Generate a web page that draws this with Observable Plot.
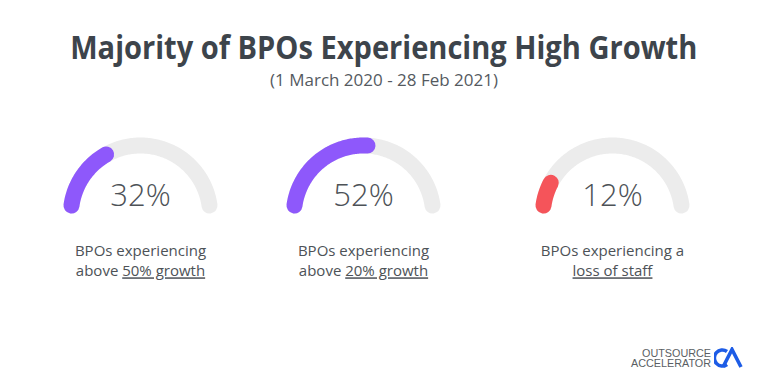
<!DOCTYPE html>
<html>
<head>
<meta charset="utf-8">
<script src="https://cdn.jsdelivr.net/npm/d3@7"></script>
<script src="https://cdn.jsdelivr.net/npm/@observablehq/plot@0.6"></script>
<style>
  html, body { margin: 0; padding: 0; background: #ffffff; }
  #wrap { position: relative; width: 768px; height: 384px; overflow: hidden; }
  #title { position: absolute; left: 0; top: 27px; width: 768px; height: 40px; line-height: 40px;
    text-align: center; font-family: "Open Sans", sans-serif; font-weight: 700; font-size: 32px; color: #3d444b;
    transform: scaleX(0.908); transform-origin: 381px 0; }
  #subtitle { position: absolute; left: 0; top: 68px; width: 768px; height: 24px; line-height: 24px;
    text-align: center; font-family: "Open Sans", sans-serif; font-size: 17px; color: #555a5f; }
  .gauge { position: absolute; top: 92px; }
  #logo { position: absolute; right: 24px; top: 347px; display: flex; align-items: center; gap: 3px; }
  #logo .txt { font-family: "Liberation Sans", Arial, sans-serif; font-size: 10.8px; line-height: 10.5px; color: #5a5e63; text-align: right; }
</style>
</head>
<body>
<div id="wrap">
  <div id="title">Majority of BPOs Experiencing High Growth</div>
  <div id="subtitle">(1 March 2020 - 28 Feb 2021)</div>
  <div id="logo">
    <div class="txt">OUTSOURCE<br>ACCELERATOR</div>
    <svg width="30" height="22" viewBox="0 0 30 22">
      <path d="M13 4.5 A8 8 0 1 0 13 17.5" fill="none" stroke="#1d5ce6" stroke-width="3.6"/>
      <path d="M9 20 L18 2.5 L27 20" fill="none" stroke="#1d5ce6" stroke-width="3.6" stroke-linejoin="miter"/>
    </svg>
  </div>
</div>
<script>
// ---- data ----
const gauges = ["above 50% growth", "above 20% growth", "loss of staff"];
const values = [32, 52, 12];
const colors = ["#8e58fb", "#8e58fb", "#f5545a"];
const line1 = ["BPOs experiencing", "BPOs experiencing", "BPOs experiencing a"];
const line2Prefix = ["above ", "above ", ""];
const line2Under = ["50% growth", "20% growth", "loss of staff"];

// ---- layout (small multiples, one Plot per gauge) ----
const gaugeCenters = [139.5, 362.5, 612];   // page x of each dial centre
const startDeg = 8, spanDeg = 164;          // dial sweep
const W = 236, H = 292;
const R = 69.7;                             // pixels per unit radius
const cy = 122.7;                           // dial centre (svg px)

const table = gauges.map((g, i) => ({
  gauge: g, value: values[i], color: colors[i],
  l1: line1[i], l2: line2Prefix[i] + line2Under[i], pct: values[i] + "%"
}));

function arcPoints(d, frac) {
  const pts = [];
  const end = spanDeg * frac;
  const n = Math.max(2, Math.ceil(end));
  for (let k = 0; k <= n; k++) {
    const a = (startDeg + end * k / n) * Math.PI / 180;
    pts.push({x: -Math.cos(a), y: Math.sin(a), color: d.color});
  }
  return pts;
}

const wrap = document.getElementById("wrap");
table.forEach((d, i) => {
  const plot = Plot.plot({
    width: W, height: H,
    marginLeft: 0, marginRight: 0, marginTop: 0, marginBottom: 0,
    x: {domain: [-W / 2 / R, W / 2 / R], axis: null},
    y: {domain: [-(H - cy) / R, cy / R], axis: null},
    style: {background: "transparent", overflow: "visible"},
    marks: [
      Plot.line(arcPoints(d, 1), {x: "x", y: "y", stroke: "#ececec", strokeWidth: 16, strokeLinecap: "round"}),
      Plot.line(arcPoints(d, d.value / 100), {x: "x", y: "y", stroke: "color", strokeWidth: 16, strokeLinecap: "round"}),
      Plot.text([d], {x: () => 0, y: () => 0, text: "pct", dy: -18.7, fontSize: 31, fontWeight: 300, fill: "#4d5257", fontFamily: "Open Sans", lineAnchor: "middle"}),
      Plot.text([d], {x: () => 0, y: () => 0, text: "l1", dy: 35.8, fontSize: 15, fill: "#4d5257", fontFamily: "Open Sans", lineAnchor: "middle"}),
      Plot.text([d], {x: () => 0, y: () => 0, text: "l2", dy: 56.3, fontSize: 15, fill: "#4d5257", fontFamily: "Open Sans", lineAnchor: "middle"})
    ]
  });
  plot.classList.add("gauge");
  plot.style.left = (gaugeCenters[i] - W / 2) + "px";
  wrap.appendChild(plot);

  // underline the highlighted part of the second label line
  d3.select(plot).selectAll("text").each(function () {
    if (this.textContent !== d.l2) return;
    const sel = d3.select(this);
    sel.text(null);
    if (line2Prefix[i]) sel.append("tspan").text(line2Prefix[i]);
    sel.append("tspan").style("text-decoration", "underline").text(line2Under[i]);
  });
});
</script>
</body>
</html>
